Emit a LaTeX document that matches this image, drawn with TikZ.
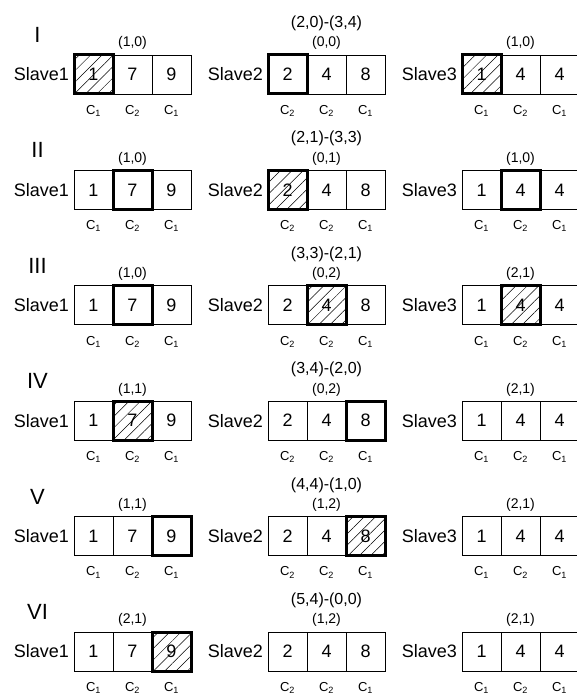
\documentclass[tikz,border=0pt]{standalone}
\usepackage{fontspec}
\setmainfont{Liberation Sans}
\usepackage{tikz}
\usetikzlibrary{positioning,patterns.meta}

\begin{document}
\begin{tikzpicture}[
	x=1pt, y=1pt,
	cell/.style={draw, line width=0.8pt, minimum width=39pt, minimum height=39pt, inner sep=0pt, outer sep=0pt, font=\fontsize{18}{20}\selectfont},
	hot/.style={line width=3pt},
	hatch/.style={hot, pattern={Lines[angle=45,distance=8pt,line width=0.5pt]}},
	slave/.style={inner sep=0pt, font=\fontsize{18}{20}\selectfont},
	stage/.style={font=\fontsize{22}{24}\selectfont},
	lab/.style={font=\fontsize{14}{16}\selectfont, inner sep=1pt, label distance=4pt},
	pair/.style={font=\fontsize{16}{18}\selectfont, inner sep=1pt, label distance=23pt},
	clab/.style={font=\fontsize{13}{15}\selectfont, inner sep=1pt, label distance=10pt},
	ca/.style={label={[clab]below:C\textsubscript{1}}},
	cb/.style={label={[clab]below:C\textsubscript{2}}}
]
\useasboundingbox (0,0) rectangle (577,-700);

% stage I
\node[stage] (s1) at (37.5,-35) {I};
\node[cell, hatch, ca] (a11) at (93.5,-74.5) {1};
\node[cell, cb, right=0pt of a11, label={[lab]above:(1,0)}] (a12) {7};
\node[cell, ca, right=0pt of a12] (a13) {9};
\node[slave, left=5pt of a11] (n1a) {Slave1};
\node[cell, hot, cb] (b11) at (287.5,-74.5) {2};
\node[cell, cb, right=0pt of b11, label={[lab]above:(0,0)}, label={[pair]above:(2,0)-(3,4)}] (b12) {4};
\node[cell, ca, right=0pt of b12] (b13) {8};
\node[slave, left=5pt of b11] (n1b) {Slave2};
\node[cell, hatch, ca] (c11) at (481.5,-74.5) {1};
\node[cell, cb, right=0pt of c11, label={[lab]above:(1,0)}] (c12) {4};
\node[cell, ca, right=0pt of c12] (c13) {4};
\node[slave, left=5pt of c11] (n1c) {Slave3};

% stage II
\node[stage] (s2) at (37.5,-150.4) {II};
\node[cell, ca] (a21) at (93.5,-189.9) {1};
\node[cell, hot, cb, right=0pt of a21, label={[lab]above:(1,0)}] (a22) {7};
\node[cell, ca, right=0pt of a22] (a23) {9};
\node[slave, left=5pt of a21] (n2a) {Slave1};
\node[cell, hatch, cb] (b21) at (287.5,-189.9) {2};
\node[cell, cb, right=0pt of b21, label={[lab]above:(0,1)}, label={[pair]above:(2,1)-(3,3)}] (b22) {4};
\node[cell, ca, right=0pt of b22] (b23) {8};
\node[slave, left=5pt of b21] (n2b) {Slave2};
\node[cell, ca] (c21) at (481.5,-189.9) {1};
\node[cell, hot, cb, right=0pt of c21, label={[lab]above:(1,0)}] (c22) {4};
\node[cell, ca, right=0pt of c22] (c23) {4};
\node[slave, left=5pt of c21] (n2c) {Slave3};

% stage III
\node[stage] (s3) at (37.5,-265.8) {III};
\node[cell, ca] (a31) at (93.5,-305.3) {1};
\node[cell, hot, cb, right=0pt of a31, label={[lab]above:(1,0)}] (a32) {7};
\node[cell, ca, right=0pt of a32] (a33) {9};
\node[slave, left=5pt of a31] (n3a) {Slave1};
\node[cell, cb] (b31) at (287.5,-305.3) {2};
\node[cell, hatch, cb, right=0pt of b31, label={[lab]above:(0,2)}, label={[pair]above:(3,3)-(2,1)}] (b32) {4};
\node[cell, ca, right=0pt of b32] (b33) {8};
\node[slave, left=5pt of b31] (n3b) {Slave2};
\node[cell, ca] (c31) at (481.5,-305.3) {1};
\node[cell, hatch, cb, right=0pt of c31, label={[lab]above:(2,1)}] (c32) {4};
\node[cell, ca, right=0pt of c32] (c33) {4};
\node[slave, left=5pt of c31] (n3c) {Slave3};

% stage IV
\node[stage] (s4) at (37.5,-381.2) {IV};
\node[cell, ca] (a41) at (93.5,-420.7) {1};
\node[cell, hatch, cb, right=0pt of a41, label={[lab]above:(1,1)}] (a42) {7};
\node[cell, ca, right=0pt of a42] (a43) {9};
\node[slave, left=5pt of a41] (n4a) {Slave1};
\node[cell, cb] (b41) at (287.5,-420.7) {2};
\node[cell, cb, right=0pt of b41, label={[lab]above:(0,2)}, label={[pair]above:(3,4)-(2,0)}] (b42) {4};
\node[cell, hot, ca, right=0pt of b42] (b43) {8};
\node[slave, left=5pt of b41] (n4b) {Slave2};
\node[cell, ca] (c41) at (481.5,-420.7) {1};
\node[cell, cb, right=0pt of c41, label={[lab]above:(2,1)}] (c42) {4};
\node[cell, ca, right=0pt of c42] (c43) {4};
\node[slave, left=5pt of c41] (n4c) {Slave3};

% stage V
\node[stage] (s5) at (37.5,-496.6) {V};
\node[cell, ca] (a51) at (93.5,-536.1) {1};
\node[cell, cb, right=0pt of a51, label={[lab]above:(1,1)}] (a52) {7};
\node[cell, hot, ca, right=0pt of a52] (a53) {9};
\node[slave, left=5pt of a51] (n5a) {Slave1};
\node[cell, cb] (b51) at (287.5,-536.1) {2};
\node[cell, cb, right=0pt of b51, label={[lab]above:(1,2)}, label={[pair]above:(4,4)-(1,0)}] (b52) {4};
\node[cell, hatch, ca, right=0pt of b52] (b53) {8};
\node[slave, left=5pt of b51] (n5b) {Slave2};
\node[cell, ca] (c51) at (481.5,-536.1) {1};
\node[cell, cb, right=0pt of c51, label={[lab]above:(2,1)}] (c52) {4};
\node[cell, ca, right=0pt of c52] (c53) {4};
\node[slave, left=5pt of c51] (n5c) {Slave3};

% stage VI
\node[stage] (s6) at (37.5,-612) {VI};
\node[cell, ca] (a61) at (93.5,-651.5) {1};
\node[cell, cb, right=0pt of a61, label={[lab]above:(2,1)}] (a62) {7};
\node[cell, hatch, ca, right=0pt of a62] (a63) {9};
\node[slave, left=5pt of a61] (n6a) {Slave1};
\node[cell, cb] (b61) at (287.5,-651.5) {2};
\node[cell, cb, right=0pt of b61, label={[lab]above:(1,2)}, label={[pair]above:(5,4)-(0,0)}] (b62) {4};
\node[cell, ca, right=0pt of b62] (b63) {8};
\node[slave, left=5pt of b61] (n6b) {Slave2};
\node[cell, ca] (c61) at (481.5,-651.5) {1};
\node[cell, cb, right=0pt of c61, label={[lab]above:(2,1)}] (c62) {4};
\node[cell, ca, right=0pt of c62] (c63) {4};
\node[slave, left=5pt of c61] (n6c) {Slave3};
\end{tikzpicture}
\end{document}
